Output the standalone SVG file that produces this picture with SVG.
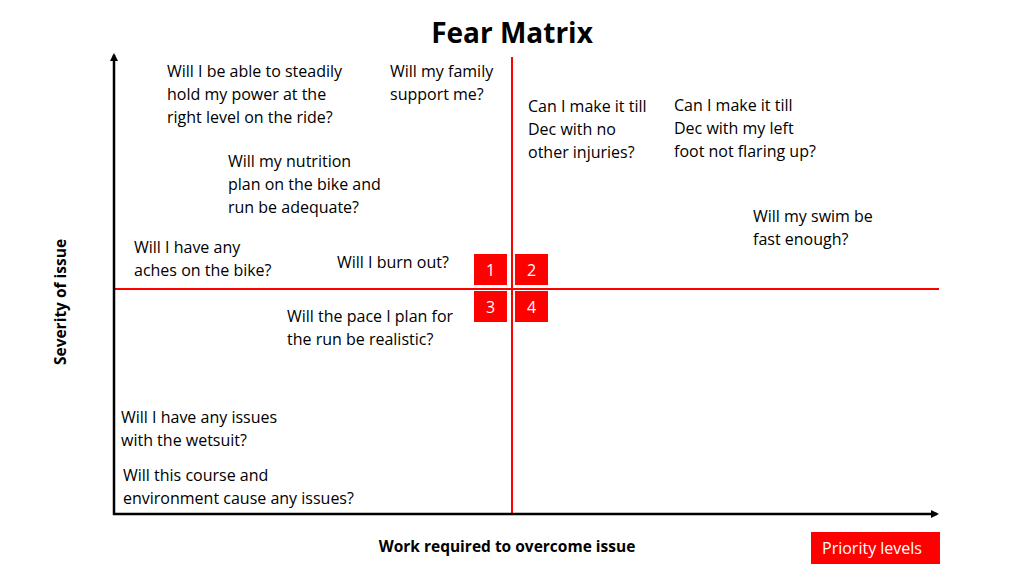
<svg xmlns="http://www.w3.org/2000/svg" width="1024" height="576" viewBox="0 0 1024 576">
<style>
text{font-family:"Open Sans","Liberation Sans",sans-serif;fill:#000}
.q{font-size:16px}
.b{font-size:15.5px;font-weight:bold}
.n{font-size:16px;fill:#fff;text-anchor:middle}
.box{fill:#ff0000}
.red{stroke:#ff0000;stroke-width:2;fill:none}
.ax{stroke:#000;stroke-width:2.5;fill:none}
</style>
<defs><marker id="ar" markerWidth="8" markerHeight="8" refX="6" refY="4" orient="auto" markerUnits="userSpaceOnUse"><path d="M0,0L8,4L0,8z" fill="#000"/></marker></defs>
<rect width="1024" height="576" fill="#fff"/>
<text x="512" y="43" text-anchor="middle" style="font-size:28px;font-weight:bold;font-family:'Open Sans','Liberation Sans',sans-serif">Fear Matrix</text>
<g id="connectors">
<line class="red" x1="512" y1="57" x2="512" y2="514"/>
<line class="red" x1="114" y1="289" x2="939" y2="289"/>
<line class="ax" x1="114" y1="515" x2="114" y2="55" marker-end="url(#ar)"/>
<line class="ax" x1="113" y1="514" x2="937" y2="514" marker-end="url(#ar)"/>
</g>
<g id="p1"><rect class="box" x="474" y="254" width="33" height="31"/><text class="n" x="490.5" y="276">1</text></g>
<g id="p2"><rect class="box" x="515" y="254" width="33" height="31"/><text class="n" x="531.5" y="276">2</text></g>
<g id="p3"><rect class="box" x="474" y="291" width="33" height="31"/><text class="n" x="490.5" y="313">3</text></g>
<g id="p4"><rect class="box" x="515" y="291" width="33" height="31"/><text class="n" x="531.5" y="313">4</text></g>
<g id="questions" class="q">
<text x="167" y="77">Will I be able to steadily<tspan x="167" dy="23">hold my power at the</tspan><tspan x="167" dy="23">right level on the ride?</tspan></text>
<text x="390" y="77">Will my family<tspan x="390" dy="23">support me?</tspan></text>
<text x="528" y="112">Can I make it till<tspan x="528" dy="23">Dec with no</tspan><tspan x="528" dy="23">other injuries?</tspan></text>
<text x="674" y="111">Can I make it till<tspan x="674" dy="23">Dec with my left</tspan><tspan x="674" dy="23">foot not flaring up?</tspan></text>
<text x="228" y="167">Will my nutrition<tspan x="228" dy="23">plan on the bike and</tspan><tspan x="228" dy="23">run be adequate?</tspan></text>
<text x="753" y="222">Will my swim be<tspan x="753" dy="23">fast enough?</tspan></text>
<text x="134" y="253">Will I have any<tspan x="134" dy="23">aches on the bike?</tspan></text>
<text x="337" y="268">Will I burn out?</text>
<text x="287" y="322">Will the pace I plan for<tspan x="287" dy="23">the run be realistic?</tspan></text>
<text x="121" y="423">Will I have any issues<tspan x="121" dy="23">with the wetsuit?</tspan></text>
<text x="123" y="481">Will this course and<tspan x="123" dy="23">environment cause any issues?</tspan></text>
</g>
<text class="b" x="507" y="552" text-anchor="middle">Work required to overcome issue</text>
<text class="b" x="0" y="0" text-anchor="middle" transform="translate(66,302) rotate(-90)">Severity of issue</text>
<g id="legend"><rect class="box" x="811" y="532" width="129" height="32"/><text x="872" y="554" text-anchor="middle" style="font-size:16px;fill:#fff">Priority levels</text></g>
</svg>
